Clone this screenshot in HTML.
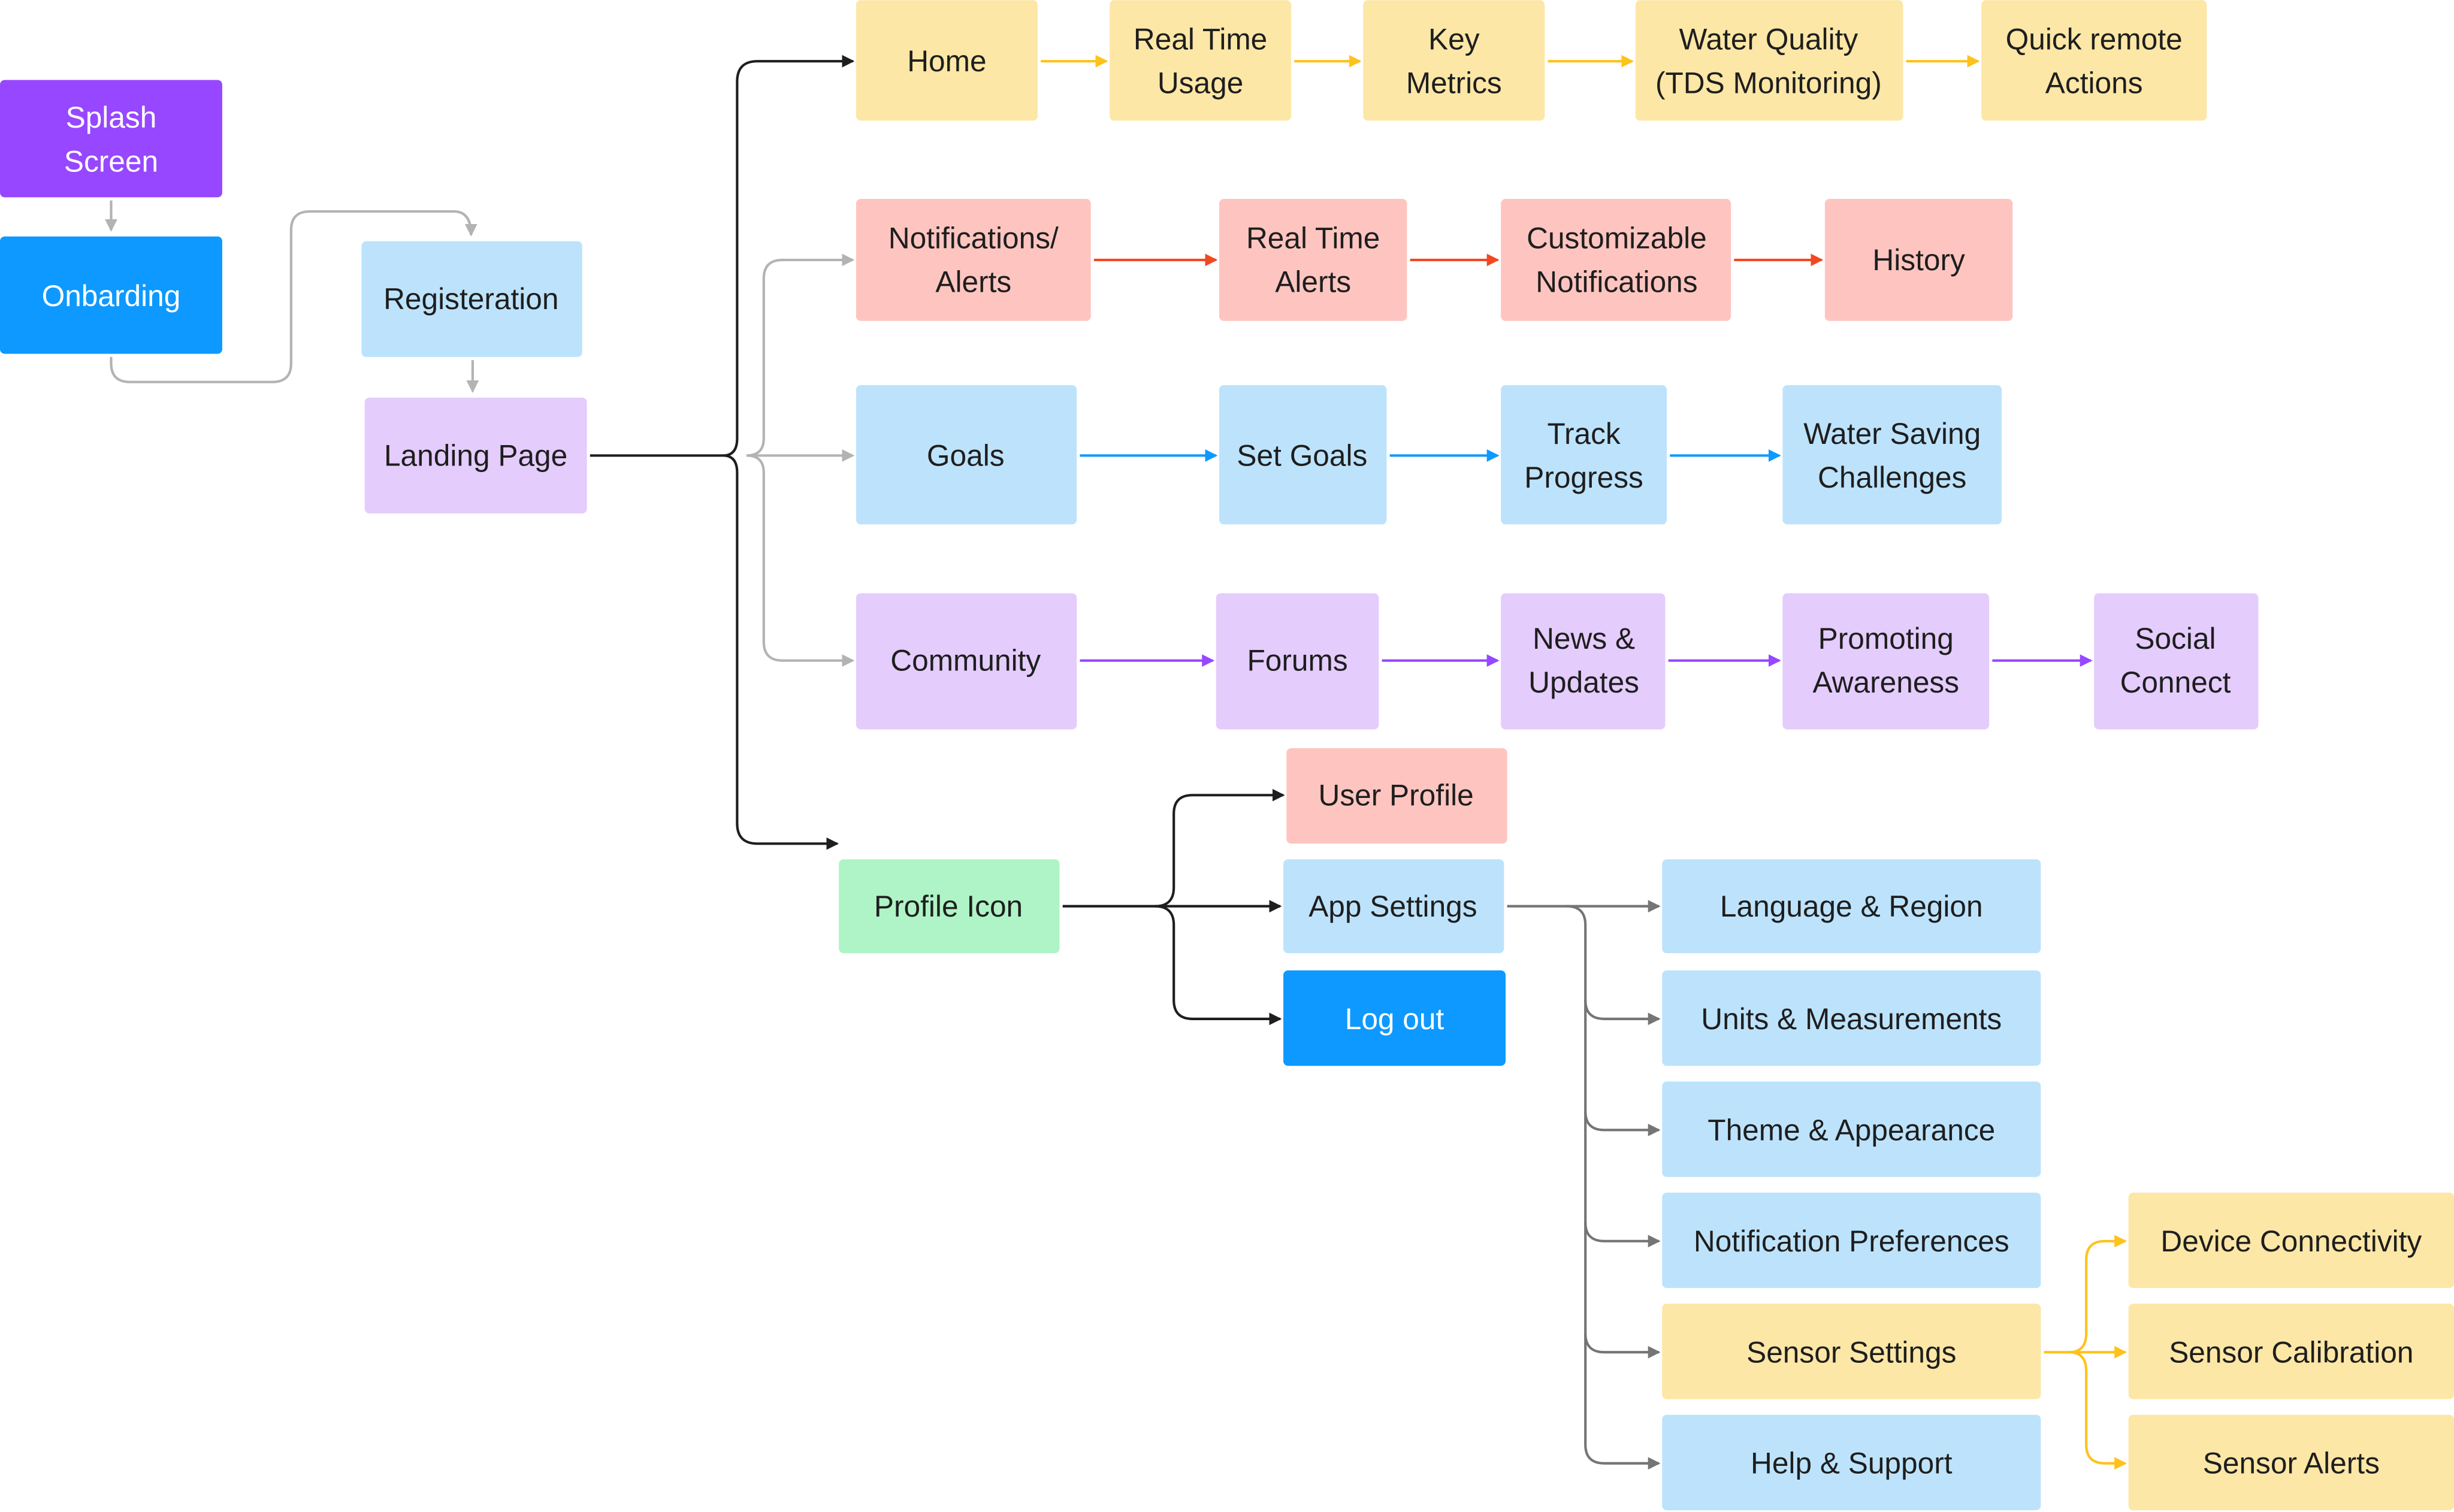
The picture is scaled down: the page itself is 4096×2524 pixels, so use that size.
<!DOCTYPE html>
<html><head><meta charset="utf-8"><style>
html,body{margin:0;padding:0;background:#fff;}
svg{display:block;}
text{font-family:"Liberation Sans",sans-serif;font-size:19px;fill:#1e1e1e;text-anchor:middle;dominant-baseline:central;}
</style></head><body>
<svg width="4096" height="2524" viewBox="0 0 1568 966" xmlns="http://www.w3.org/2000/svg">
<defs>
<marker id="ag" markerWidth="8" markerHeight="8" refX="7" refY="4" orient="auto" markerUnits="userSpaceOnUse"><path d="M0,0 L8,4 L0,8 z" fill="#b3b3b3"/></marker>
<marker id="ak" markerWidth="8" markerHeight="8" refX="7" refY="4" orient="auto" markerUnits="userSpaceOnUse"><path d="M0,0 L8,4 L0,8 z" fill="#1e1e1e"/></marker>
<marker id="ad" markerWidth="8" markerHeight="8" refX="7" refY="4" orient="auto" markerUnits="userSpaceOnUse"><path d="M0,0 L8,4 L0,8 z" fill="#757575"/></marker>
<marker id="ay" markerWidth="8" markerHeight="8" refX="7" refY="4" orient="auto" markerUnits="userSpaceOnUse"><path d="M0,0 L8,4 L0,8 z" fill="#ffc21a"/></marker>
<marker id="ar" markerWidth="8" markerHeight="8" refX="7" refY="4" orient="auto" markerUnits="userSpaceOnUse"><path d="M0,0 L8,4 L0,8 z" fill="#f24822"/></marker>
<marker id="ab" markerWidth="8" markerHeight="8" refX="7" refY="4" orient="auto" markerUnits="userSpaceOnUse"><path d="M0,0 L8,4 L0,8 z" fill="#0d99ff"/></marker>
<marker id="ap" markerWidth="8" markerHeight="8" refX="7" refY="4" orient="auto" markerUnits="userSpaceOnUse"><path d="M0,0 L8,4 L0,8 z" fill="#9747ff"/></marker>
</defs>
<g fill="none" stroke-width="1.6">
<path d="M71,128 V147" stroke="#b3b3b3" marker-end="url(#ag)"/>
<path d="M71,228 V232 Q71,244 83,244 H174 Q186,244 186,232 V147 Q186,135 198,135 H290 Q301,135 301,150" stroke="#b3b3b3" marker-end="url(#ag)"/>
<path d="M302,230 V250" stroke="#b3b3b3" marker-end="url(#ag)"/>
<path d="M377,291 H462 Q471,291 471,280 V52 Q471,39 484,39 H545" stroke="#1e1e1e" marker-end="url(#ak)"/>
<path d="M462,291 Q471,291 471,302 V526 Q471,539 484,539 H535" stroke="#1e1e1e" marker-end="url(#ak)"/>
<path d="M477,291 Q488,291 488,280 V178 Q488,166 500,166 H545" stroke="#b3b3b3" marker-end="url(#ag)"/>
<path d="M477,291 H545" stroke="#b3b3b3" marker-end="url(#ag)"/>
<path d="M477,291 Q488,291 488,302 V410 Q488,422 500,422 H545" stroke="#b3b3b3" marker-end="url(#ag)"/>
<g stroke="#ffc21a"><path d="M665,39 H707" marker-end="url(#ay)"/><path d="M827,39 H869" marker-end="url(#ay)"/><path d="M989,39 H1043" marker-end="url(#ay)"/><path d="M1218,39 H1264" marker-end="url(#ay)"/></g>
<g stroke="#f24822"><path d="M699,166 H777" marker-end="url(#ar)"/><path d="M901,166 H957" marker-end="url(#ar)"/><path d="M1108,166 H1164" marker-end="url(#ar)"/></g>
<g stroke="#0d99ff"><path d="M690,291 H777" marker-end="url(#ab)"/><path d="M888,291 H957" marker-end="url(#ab)"/><path d="M1067,291 H1137" marker-end="url(#ab)"/></g>
<g stroke="#9747ff"><path d="M690,422 H775" marker-end="url(#ap)"/><path d="M883,422 H957" marker-end="url(#ap)"/><path d="M1066,422 H1137" marker-end="url(#ap)"/><path d="M1273,422 H1336" marker-end="url(#ap)"/></g>
<g stroke="#1e1e1e"><path d="M679,579 H818" marker-end="url(#ak)"/><path d="M738,579 Q750,579 750,567 V520 Q750,508 762,508 H820" marker-end="url(#ak)"/><path d="M738,579 Q750,579 750,591 V639 Q750,651 762,651 H818" marker-end="url(#ak)"/></g>
<g stroke="#757575"><path d="M963,579 H1060" marker-end="url(#ad)"/>
<path d="M1001,579 Q1013,579 1013,591 V923 Q1013,935 1025,935 H1060" marker-end="url(#ad)"/>
<path d="M1013,639 Q1013,651 1025,651 H1060" marker-end="url(#ad)"/>
<path d="M1013,710 Q1013,722 1025,722 H1060" marker-end="url(#ad)"/>
<path d="M1013,781 Q1013,793 1025,793 H1060" marker-end="url(#ad)"/>
<path d="M1013,852 Q1013,864 1025,864 H1060" marker-end="url(#ad)"/></g>
<g stroke="#ffc21a"><path d="M1306,864 H1358" marker-end="url(#ay)"/><path d="M1322,864 Q1333,864 1333,852 V805 Q1333,793 1345,793 H1358" marker-end="url(#ay)"/><path d="M1322,864 Q1333,864 1333,876 V923 Q1333,935 1345,935 H1358" marker-end="url(#ay)"/></g>
</g>
<g>
<rect x="0" y="51" width="142" height="75" rx="3" fill="#9747ff"/><text x="71" y="75" style="fill:#fff">Splash</text><text x="71" y="103" style="fill:#fff">Screen</text>
<rect x="0" y="151" width="142" height="75" rx="3" fill="#0d99ff"/><text x="71" y="189" style="fill:#fff">Onbarding</text>
<rect x="231" y="154" width="141" height="74" rx="3" fill="#bde3fc"/><text x="301" y="191">Registeration</text>
<rect x="233" y="254" width="142" height="74" rx="3" fill="#e4ccfc"/><text x="304" y="291">Landing Page</text>

<g fill="#fde7a6">
<rect x="547" y="0" width="116" height="77" rx="3"/><rect x="709" y="0" width="116" height="77" rx="3"/><rect x="871" y="0" width="116" height="77" rx="3"/><rect x="1045" y="0" width="171" height="77" rx="3"/><rect x="1266" y="0" width="144" height="77" rx="3"/>
<rect x="1062" y="833" width="242" height="61" rx="3"/><rect x="1360" y="762" width="208" height="61" rx="3"/><rect x="1360" y="833" width="208" height="61" rx="3"/><rect x="1360" y="904" width="208" height="61" rx="3"/>
</g>
<text x="605" y="39">Home</text><text x="767" y="25">Real Time</text><text x="767" y="53">Usage</text><text x="929" y="25">Key</text><text x="929" y="53">Metrics</text><text x="1130" y="25">Water Quality</text><text x="1130" y="53">(TDS Monitoring)</text><text x="1338" y="25">Quick remote</text><text x="1338" y="53">Actions</text>

<g fill="#fec5c0">
<rect x="547" y="127" width="150" height="78" rx="3"/><rect x="779" y="127" width="120" height="78" rx="3"/><rect x="959" y="127" width="147" height="78" rx="3"/><rect x="1166" y="127" width="120" height="78" rx="3"/><rect x="822" y="478" width="141" height="61" rx="3"/>
</g>
<text x="622" y="152">Notifications/</text><text x="622" y="180">Alerts</text><text x="839" y="152">Real Time</text><text x="839" y="180">Alerts</text><text x="1033" y="152">Customizable</text><text x="1033" y="180">Notifications</text><text x="1226" y="166">History</text><text x="892" y="508">User Profile</text>

<g fill="#bde3fc">
<rect x="547" y="246" width="141" height="89" rx="3"/><rect x="779" y="246" width="107" height="89" rx="3"/><rect x="959" y="246" width="106" height="89" rx="3"/><rect x="1139" y="246" width="140" height="89" rx="3"/>
<rect x="820" y="549" width="141" height="60" rx="3"/>
<rect x="1062" y="549" width="242" height="60" rx="3"/><rect x="1062" y="620" width="242" height="61" rx="3"/><rect x="1062" y="691" width="242" height="61" rx="3"/><rect x="1062" y="762" width="242" height="61" rx="3"/><rect x="1062" y="904" width="242" height="61" rx="3"/>
</g>
<text x="617" y="291">Goals</text><text x="832" y="291">Set Goals</text><text x="1012" y="277">Track</text><text x="1012" y="305">Progress</text><text x="1209" y="277">Water Saving</text><text x="1209" y="305">Challenges</text>
<text x="890" y="579">App Settings</text>
<text x="1183" y="579">Language &amp; Region</text><text x="1183" y="651">Units &amp; Measurements</text><text x="1183" y="722">Theme &amp; Appearance</text><text x="1183" y="793">Notification Preferences</text><text x="1183" y="864">Sensor Settings</text><text x="1183" y="935">Help &amp; Support</text>
<text x="1464" y="793">Device Connectivity</text><text x="1464" y="864">Sensor Calibration</text><text x="1464" y="935">Sensor Alerts</text>

<g fill="#e4ccfc">
<rect x="547" y="379" width="141" height="87" rx="3"/><rect x="777" y="379" width="104" height="87" rx="3"/><rect x="959" y="379" width="105" height="87" rx="3"/><rect x="1139" y="379" width="132" height="87" rx="3"/><rect x="1338" y="379" width="105" height="87" rx="3"/>
</g>
<text x="617" y="422">Community</text><text x="829" y="422">Forums</text><text x="1012" y="408">News &amp;</text><text x="1012" y="436">Updates</text><text x="1205" y="408">Promoting</text><text x="1205" y="436">Awareness</text><text x="1390" y="408">Social</text><text x="1390" y="436">Connect</text>

<rect x="536" y="549" width="141" height="60" rx="3" fill="#aff4c6"/><text x="606" y="579">Profile Icon</text>
<rect x="820" y="620" width="142" height="61" rx="3" fill="#0d99ff"/><text x="891" y="651" style="fill:#fff">Log out</text>
</g>
</svg>
</body></html>
